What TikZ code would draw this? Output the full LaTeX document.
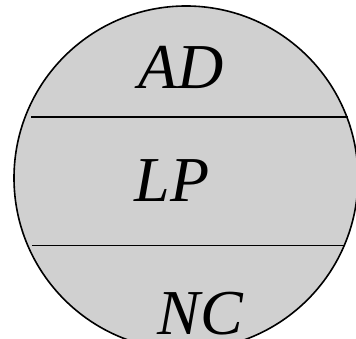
\documentclass[tikz,border=0pt]{standalone}
\usepackage{fontspec}
\setmainfont{Liberation Serif}
\usepackage{tikz}
\usetikzlibrary{positioning}

\begin{document}
\begin{tikzpicture}[x=1pt,y=1pt,every node/.style={font=\fontsize{64}{64}\selectfont\itshape}]
  \tikzstyle{layer} = [anchor=base, inner sep=0pt]
  \tikzstyle{border} = [draw=black, line width=1.6pt]
  \definecolor{shell}{RGB}{208,208,208}

  % picture frame 356 x 339, the disc runs off the right and bottom edges
  \useasboundingbox (0,0) rectangle (356,339);
  \clip (0,0) rectangle (356,339);

  \coordinate (centre) at (186,161);
  \fill[shell] (centre) circle (172);
  \draw[border] (centre) circle (172);

  % the two chords that split the disc into three layers
  \draw[border] (31,222) -- (348,222);
  \draw[border] (32,93.5) -- (345,93.5);

  \node (ad) [layer] at (181,250) {AD};
  \node (lp) [layer] at (172,137) {LP};
  \node (nc) [layer] at (200,4) {NC};
\end{tikzpicture}
\end{document}
